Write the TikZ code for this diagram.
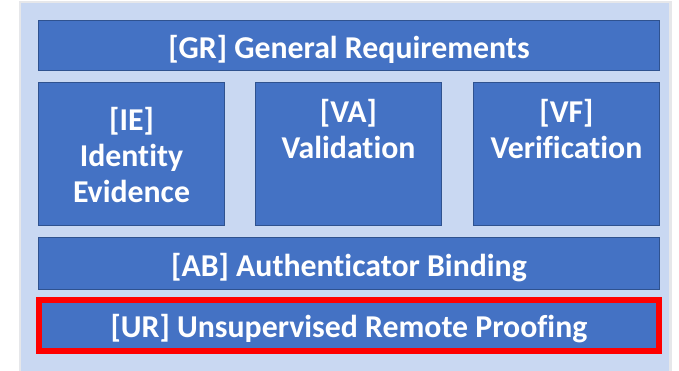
\documentclass[tikz,border=0pt]{standalone}
\usepackage{fontspec}
\setmainfont{Carlito}[Ligatures={NoCommon}]
\definecolor{boxblue}{HTML}{4472C4}
\definecolor{boxline}{HTML}{2F528F}
\definecolor{panel}{HTML}{C9D8F2}
\definecolor{shadowgray}{HTML}{E6E7EA}
\definecolor{redframe}{HTML}{FF0000}
\begin{document}
\begin{tikzpicture}[x=1pt,y=-1pt,
  blk/.style={draw=boxline, line width=1.5pt, fill=boxblue, inner sep=0pt, outer sep=0pt},
  lbl/.style={text=white, font=\bfseries\fontsize{31.8}{36.3}\selectfont, inner sep=0pt, anchor=base},
  redbox/.style={draw=redframe, line width=6pt},
]
\useasboundingbox (0,0) rectangle (679,370);
\fill[shadowgray] (18.5,0.5) rectangle (671.5,372);
\fill[panel] (21,3) rectangle (669,372);
% boxes
\node[blk, minimum width=621pt, minimum height=50pt] (gr) at (349,45.5) {};
\node[blk, minimum width=186pt, minimum height=143pt] (ie) at (131.5,154) {};
\node[blk, minimum width=186pt, minimum height=143pt] (va) at (348.5,154) {};
\node[blk, minimum width=186pt, minimum height=143pt] (vf) at (566.5,154) {};
\node[blk, minimum width=621pt, minimum height=52pt] (ab) at (349,263.5) {};
\node[blk, redbox, minimum width=620pt, minimum height=50.5pt] (ur) at (349,325.5) {};
% labels
\node[lbl] (grt) at (349,58) {[GR] General Requirements};
\node[lbl] (iet) at (131.5,130) {\begin{tabular}[t]{@{}c@{}}[IE]\\Identity\\Evidence\end{tabular}};
\node[lbl] (vat) at (348.5,122) {\begin{tabular}[t]{@{}c@{}}[VA]\\Validation\end{tabular}};
\node[lbl] (vft) at (566.5,122) {\begin{tabular}[t]{@{}c@{}}[VF]\\Verification\end{tabular}};
\node[lbl] (abt) at (349,276) {[AB] Authenticator Binding};
\node[lbl] (urt) at (349,337) {[UR] Unsupervised Remote Proofing};
\end{tikzpicture}
\end{document}
